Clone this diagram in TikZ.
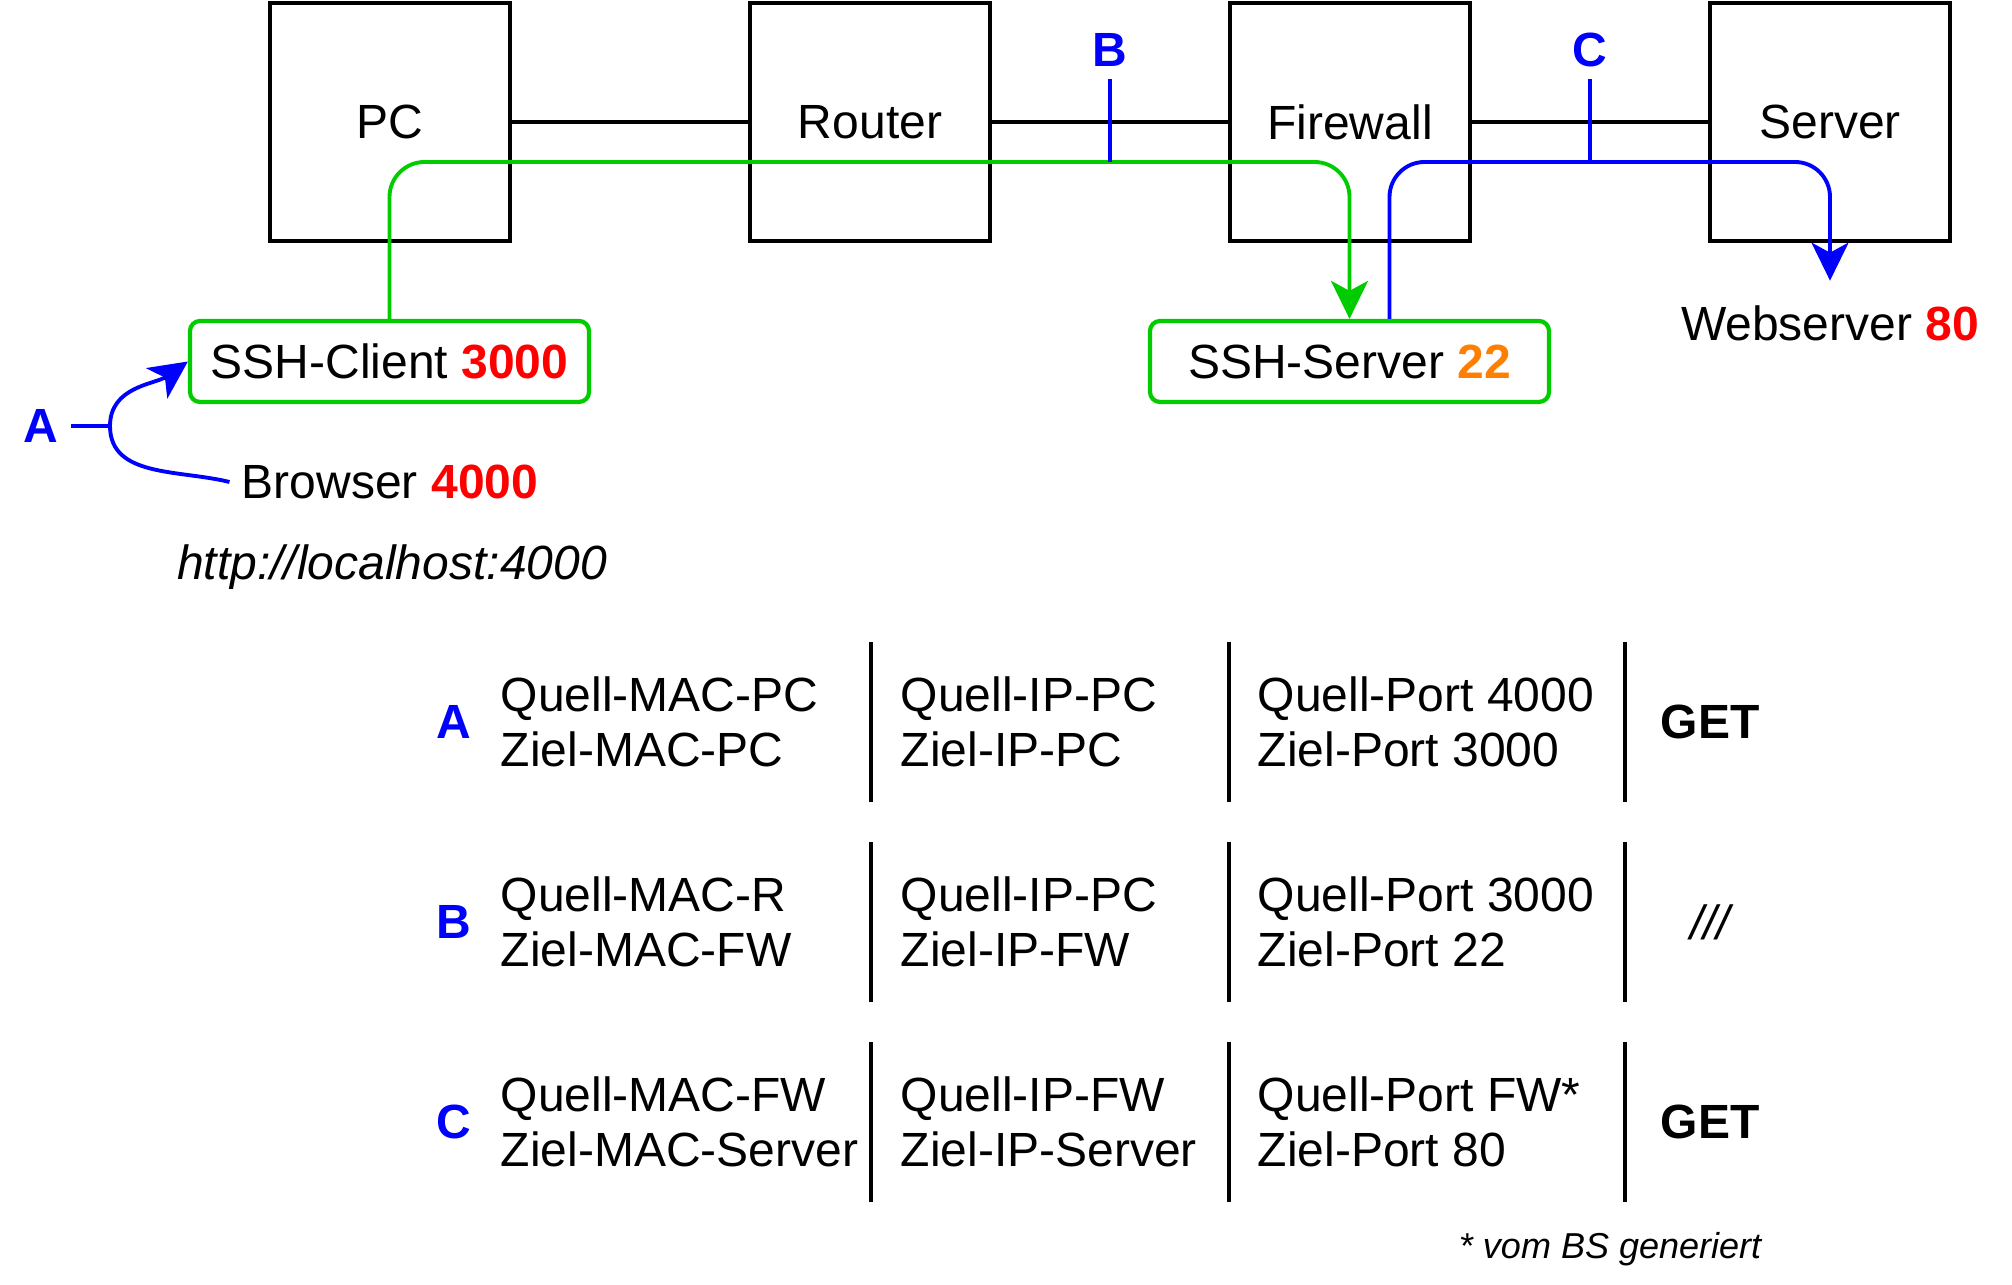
\documentclass[tikz,border=0pt]{standalone}
\usepackage{fontspec}
\setmainfont{Liberation Sans}
\usepackage{xcolor}
\usetikzlibrary{arrows.meta}
\definecolor{hopblue}{RGB}{0,0,255}
\definecolor{sshgreen}{RGB}{0,204,0}
\definecolor{portred}{RGB}{255,0,0}
\definecolor{portorange}{RGB}{255,128,0}
\newcommand{\portnum}[2]{\textbf{\color{#1}#2}}

\begin{document}
\begin{tikzpicture}[scale=1,
    font=\fontsize{13.66}{15.6}\selectfont,
    device/.style={draw, line width=1.2pt, minimum width=2.4cm, minimum height=2.38cm},
    app/.style={draw=sshgreen, line width=1.2pt, rounded corners=0.1cm, minimum width=3.99cm, minimum height=0.81cm},
    hop/.style={font=\fontsize{13.66}{15.6}\selectfont\bfseries, text=hopblue},
    cell/.style={anchor=west, align=left, inner sep=0pt},
    flowtip/.style={-{Stealth[length=0.38cm, width=0.37cm, inset=0.1cm]}},
    greenflow/.style={draw=sshgreen, line width=1.1pt, rounded corners=0.35cm},
    blueflow/.style={draw=hopblue, line width=1.1pt, rounded corners=0.35cm}
  ]
  \useasboundingbox (0,0) rectangle (20.12,12.84);

  % Devices
  \foreach \x/\name/\lab in {3.9/pc/PC, 8.7/router/Router, 13.5/fw/Firewall, 18.3/srv/Server} {
    \node[device] (\name) at (\x, 11.62) {\lab};
  }
  \draw[line width=1.2pt] (pc) -- (router) (router) -- (fw) (fw) -- (srv);

  % Applications
  \node[app] (sshc) at (3.895, 9.225) {SSH-Client \portnum{portred}{3000}};
  \node[app] (sshs) at (13.495, 9.225) {SSH-Server \portnum{portorange}{22}};
  \node[inner ysep=0.24cm] (web) at (18.3, 9.61) {Webserver \portnum{portred}{80}};
  \node (browser) at (3.9, 8.02) {Browser \portnum{portred}{4000}};
  \node[anchor=base] (url) at (3.92, 7.04) {\textit{http://localhost:4000}};

  % Tunnel and forwarded connection
  \coordinate (flowrow) at (0, 11.22);
  \coordinate (cstart) at ([xshift=0.4cm]sshs.north);
  \draw[greenflow, flowtip] (sshc.north) |- (sshs.north |- flowrow) -- (sshs.north);
  \draw[blueflow, flowtip] (cstart) |- (web.north |- flowrow) -- (web.north);

  % Capture points
  \node[hop] (labA) at (0.41, 8.58) {A};
  \coordinate (ajoin) at (1.10, 8.58);
  \draw[hopblue, line width=1.1pt] (labA) -- (ajoin);
  \draw[hopblue, line width=1.1pt, flowtip] (browser.west) to[out=166, in=-90] (ajoin) to[out=90, in=215] (sshc.west);

  \node[hop] (labB) at (11.10, 12.34) {B};
  \draw[hopblue, line width=1.1pt] (labB) -- (labB |- flowrow);
  \node[hop] (labC) at (15.90, 12.34) {C};
  \draw[hopblue, line width=1.1pt] (labC) -- (labC |- flowrow);

  % Header table
  \foreach \x in {8.71, 12.29, 16.25} {
    \foreach \ytop in {6.42, 4.42, 2.42} {
      \draw[line width=1.2pt] (\x, \ytop) -- (\x, \ytop-1.6);
    }
  }

  % Row A
  \node[hop] (rowA) at (4.54, 5.62) {A};
  \node[cell] (macA) at (5.00, 5.62) {Quell-MAC-PC\\Ziel-MAC-PC};
  \node[cell] (ipA) at (9.00, 5.62) {Quell-IP-PC\\Ziel-IP-PC};
  \node[cell] (portA) at (12.57, 5.62) {Quell-Port 4000\\Ziel-Port 3000};
  \node[font=\fontsize{13.66}{15.6}\selectfont\bfseries] (payA) at (17.10, 5.62) {GET};

  % Row B
  \node[hop] (rowB) at (4.54, 3.62) {B};
  \node[cell] (macB) at (5.00, 3.62) {Quell-MAC-R\\Ziel-MAC-FW};
  \node[cell] (ipB) at (9.00, 3.62) {Quell-IP-PC\\Ziel-IP-FW};
  \node[cell] (portB) at (12.57, 3.62) {Quell-Port 3000\\Ziel-Port 22};
  \node[font=\fontsize{13.66}{15.6}\selectfont\itshape] (payB) at (17.10, 3.62) {///};

  % Row C
  \node[hop] (rowC) at (4.54, 1.62) {C};
  \node[cell] (macC) at (5.00, 1.62) {Quell-MAC-FW\\Ziel-MAC-Server};
  \node[cell] (ipC) at (9.00, 1.62) {Quell-IP-FW\\Ziel-IP-Server};
  \node[cell] (portC) at (12.57, 1.62) {Quell-Port FW*\\Ziel-Port 80};
  \node[font=\fontsize{13.66}{15.6}\selectfont\bfseries] (payC) at (17.10, 1.62) {GET};

  % Footnote
  \node[anchor=base east, inner sep=0pt, font=\fontsize{10.25}{12}\selectfont\itshape] (note) at (17.62, 0.26) {* vom BS generiert};

\end{tikzpicture}
\end{document}
